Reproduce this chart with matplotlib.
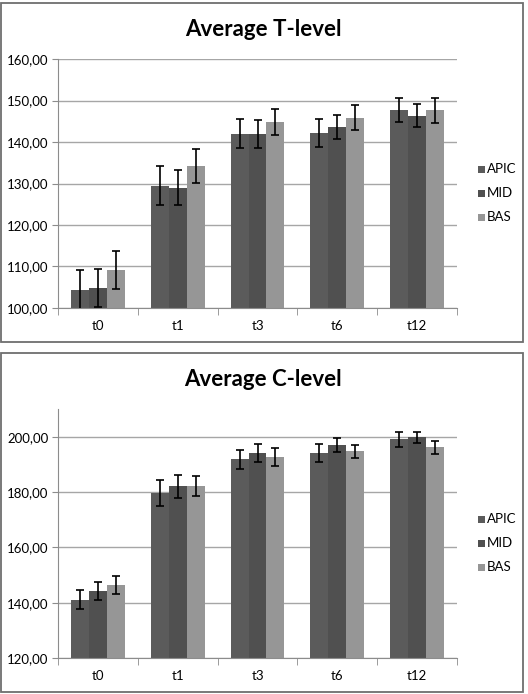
import numpy as np
import matplotlib
matplotlib.use("Agg")
import matplotlib.pyplot as plt
from matplotlib.patches import Rectangle

categories = ["t0", "t1", "t3", "t6", "t12"]
series = ["APIC", "MID", "BAS"]
colors = ["#5b5b5b", "#505050", "#969696"]

t_apic = [104.4, 129.5, 142.0, 142.2, 147.8]
t_mid = [104.9, 129.0, 142.0, 143.7, 146.3]
t_bas = [109.2, 134.3, 144.8, 145.9, 147.6]
t_apic_err = [4.8, 4.6, 3.5, 3.3, 2.9]
t_mid_err = [4.6, 4.2, 3.4, 2.9, 2.8]
t_bas_err = [4.6, 4.1, 3.2, 2.9, 3.0]

c_apic = [141.0, 179.7, 191.8, 194.0, 199.0]
c_mid = [144.3, 182.1, 194.0, 196.9, 199.8]
c_bas = [146.4, 182.1, 192.6, 194.7, 196.2]
c_apic_err = [3.4, 4.7, 3.4, 3.3, 2.8]
c_mid_err = [3.2, 4.1, 3.2, 2.5, 2.0]
c_bas_err = [3.3, 3.7, 3.3, 2.3, 2.3]

W, H = 528, 694
fig = plt.figure(figsize=(W / 100, H / 100), dpi=100)

def fx(px):
    return px / W

def fy(py):
    return 1 - py / H

def panel(top, bottom, ax_top, ax_bot, title, vals, errs, ylim, yticks):
    # outer chart border
    fig.patches.append(Rectangle((fx(1), fy(bottom)), fx(522), (bottom - top) / H,
                                 transform=fig.transFigure, fill=False,
                                 edgecolor="#6e6e6e", linewidth=1.3))
    fig.text(fx(263), fy(top + 26), title, ha="center", va="center",
             fontsize=16, fontweight="bold", family="Lato")
    ax = fig.add_axes([fx(58), fy(ax_bot), fx(457 - 58), (ax_bot - ax_top) / H])
    x = np.arange(len(categories))
    w = 0.225
    for i, (v, e) in enumerate(zip(vals, errs)):
        ax.bar(x + (i - 1) * w, np.array(v) - ylim[0], w, bottom=ylim[0],
               color=colors[i], label=series[i], zorder=2)
        ax.errorbar(x + (i - 1) * w, v, yerr=e, fmt="none", ecolor="black",
                    elinewidth=1.2, capsize=3, capthick=1.2, zorder=3)
    ax.set_xlim(-0.5, len(categories) - 0.5)
    ax.set_ylim(*ylim)
    ax.set_yticks(yticks)
    ax.set_yticklabels([f"{t:.2f}".replace(".", ",") for t in yticks],
                       fontsize=9.5, family="Lato")
    ax.set_xticks(x)
    ax.set_xticklabels(categories, fontsize=9.5, family="Lato")
    ax.set_xticks(np.arange(len(categories) + 1) - 0.5, minor=True)
    ax.tick_params(axis="x", which="major", length=0, pad=9)
    ax.tick_params(axis="x", which="minor", length=5, color="#8c8c8c")
    ax.tick_params(axis="y", length=4, color="#8c8c8c", pad=3)
    ax.yaxis.grid(True, color="#a6a6a6", linewidth=1.0, zorder=0)
    ax.set_axisbelow(True)
    for s in ["top", "right"]:
        ax.spines[s].set_visible(False)
    for s in ["left", "bottom"]:
        ax.spines[s].set_color("#8c8c8c")
    # legend
    for i, name in enumerate(series):
        ly = (ax_top + ax_bot) / 2 - 14.5 + i * 24
        fig.patches.append(Rectangle((fx(478), fy(ly + 3.5)), fx(7), 7 / H,
                                     transform=fig.transFigure,
                                     facecolor=colors[i], edgecolor="none"))
        fig.text(fx(487), fy(ly), name, ha="left", va="center", fontsize=9.5,
                 family="Lato")
    return ax

panel(3, 342, 59, 308, "Average T-level", [t_apic, t_mid, t_bas],
      [t_apic_err, t_mid_err, t_bas_err], (100, 160), [100, 110, 120, 130, 140, 150, 160])
panel(353, 692, 409, 658, "Average C-level", [c_apic, c_mid, c_bas],
      [c_apic_err, c_mid_err, c_bas_err], (120, 210), [120, 140, 160, 180, 200])

fig.savefig("out.png", dpi=100)
